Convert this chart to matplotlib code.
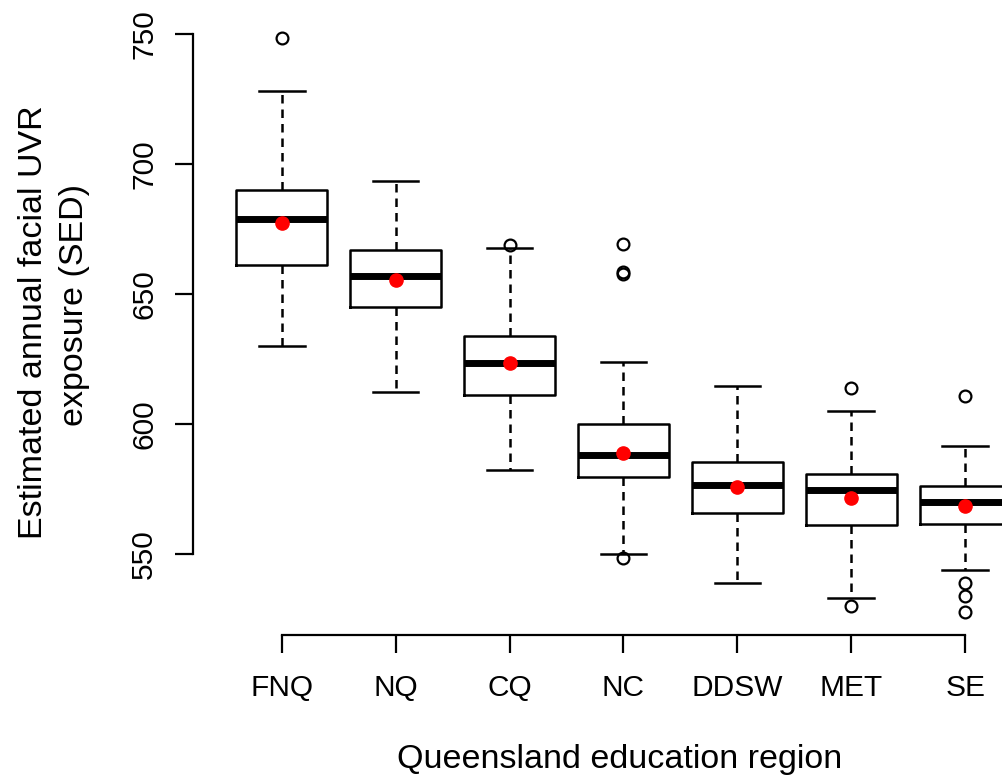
import matplotlib
matplotlib.use("Agg")
import matplotlib.pyplot as plt

plt.rcParams['font.family'] = ['Liberation Sans', 'DejaVu Sans']

regions = ['FNQ', 'NQ', 'CQ', 'NC', 'DDSW', 'MET', 'SE']
whis_lo = [630.0, 612.3, 582.3, 550.0, 538.8, 533.1, 543.8]
q1 = [661.2, 645.0, 611.2, 579.6, 565.8, 561.2, 561.5]
medians = [678.8, 656.9, 623.5, 588.1, 576.5, 574.6, 570.0]
q3 = [690.0, 666.9, 633.8, 600.0, 585.4, 580.8, 576.2]
whis_hi = [728.1, 693.5, 667.7, 623.8, 614.6, 605.0, 591.5]
means = [677.3, 655.4, 623.5, 588.8, 575.8, 571.5, 568.5]
outliers = [
    [748.5],
    [],
    [668.8],
    [669.2, 658.5, 657.7, 548.5],
    [],
    [613.8, 530.0],
    [610.8, 538.8, 533.8, 527.7],
]

W, H = 1003, 778
fig = plt.figure(figsize=(W / 100, H / 100), dpi=100)
# plot region in pixels: x from 193 to 1054 (cropped at right), y from 15 to 635
ax = fig.add_axes([193 / W, (H - 635) / H, (1054 - 193) / W, (635 - 15) / H])

stats = []
for i, name in enumerate(regions):
    stats.append({
        'label': name,
        'whislo': whis_lo[i], 'q1': q1[i], 'med': medians[i],
        'q3': q3[i], 'whishi': whis_hi[i], 'fliers': outliers[i],
    })

pos = list(range(1, len(regions) + 1))
ax.bxp(stats, positions=pos, widths=0.8, capwidths=0.4, showfliers=True,
       boxprops=dict(color='black', linewidth=1.8),
       whiskerprops=dict(color='black', linewidth=1.8, linestyle=(0, (3.4, 2.4))),
       capprops=dict(color='black', linewidth=1.8),
       medianprops=dict(color='black', linewidth=5, solid_capstyle='butt'),
       flierprops=dict(marker='o', markerfacecolor='none', markeredgecolor='black',
                       markersize=8.5, markeredgewidth=1.6, linestyle='none'))

ax.plot(pos, means, 'o', color='red', markersize=9.5, zorder=5)

ax.set_xlim(0.22, 7.78)
ax.set_ylim(518.9, 757.3)

for s in ['top', 'right']:
    ax.spines[s].set_visible(False)
ax.spines['left'].set_bounds(550, 750)
ax.spines['bottom'].set_bounds(1, 7)
for s in ['left', 'bottom']:
    ax.spines[s].set_linewidth(1.6)

ax.set_yticks([550, 600, 650, 700, 750])
ax.set_xticks(pos)
ax.set_xticklabels(regions)
ax.tick_params(axis='both', direction='out', length=13, width=1.6, labelsize=21.5)
ax.tick_params(axis='y', pad=12, labelrotation=90)
ax.tick_params(axis='x', pad=15)
for lab in ax.get_yticklabels():
    lab.set_va('center')

fig.text(620 / W, 10 / H, 'Queensland education region', fontsize=24.5,
         ha='center', va='baseline')
fig.text(42 / W, (H - 322) / H, 'Estimated annual facial UVR', fontsize=24.5,
         rotation=90, rotation_mode='anchor', ha='center', va='baseline')
fig.text(83 / W, (H - 305) / H, 'exposure (SED)', fontsize=24.5,
         rotation=90, rotation_mode='anchor', ha='center', va='baseline')

fig.savefig('out.png', dpi=100)
